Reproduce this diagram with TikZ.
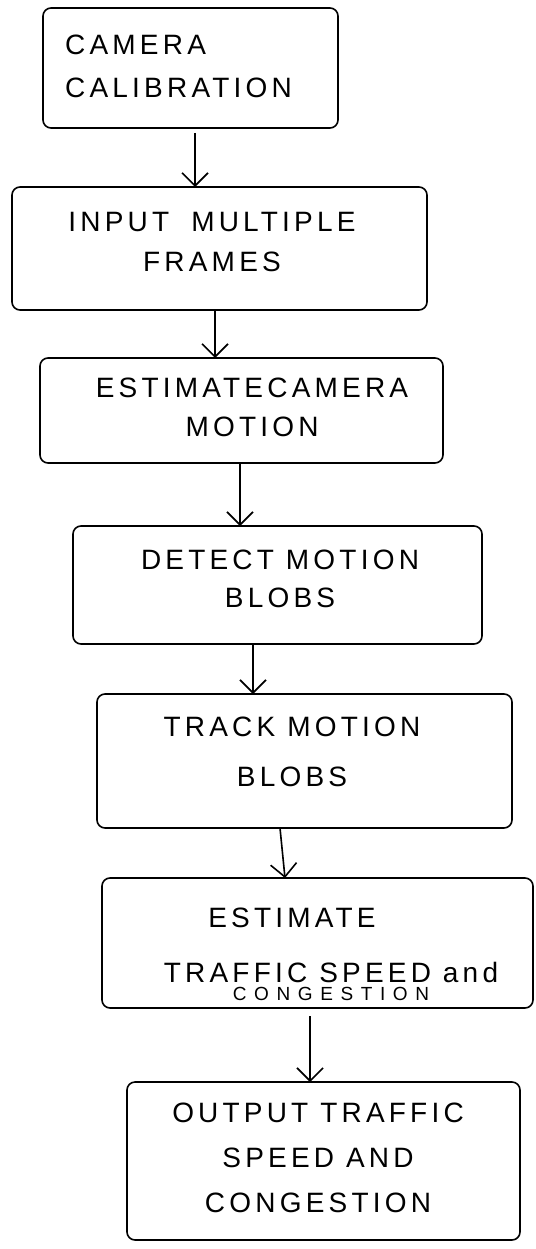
\documentclass[tikz,border=0pt]{standalone}
\usepackage{fontspec}
\newfontfamily\hand[LetterSpace=15]{Liberation Sans}
\newfontfamily\handwide[LetterSpace=40]{Liberation Sans}
\usetikzlibrary{arrows.meta}
\begin{document}
\begin{tikzpicture}[x=1pt,y=-1pt,
  box/.style={draw, line width=1.6pt, rounded corners=8pt, inner sep=0pt, outer sep=0pt},
  lbl/.style={inner sep=0pt, font=\hand\fontsize{28}{#1}\selectfont},
  flow/.style={line width=1.6pt, -{Straight Barb[length=13pt,width=26pt,line width=1.6pt]}}]
\useasboundingbox[fill=white] (0,0) rectangle (535,1249);
% boxes
\node[box, minimum width=295pt, minimum height=120pt] (b1) at (190.5,68) {};
\node[box, minimum width=415pt, minimum height=123pt] (b2) at (219.5,248.5) {};
\node[box, minimum width=403pt, minimum height=105pt] (b3) at (241.5,410.5) {};
\node[box, minimum width=409pt, minimum height=118pt] (b4) at (277.5,585) {};
\node[box, minimum width=415pt, minimum height=134pt] (b5) at (304.5,761) {};
\node[box, minimum width=431pt, minimum height=130pt] (b6) at (317.5,943) {};
\node[box, minimum width=393pt, minimum height=158pt] (b7) at (323.5,1161) {};
% texts
\node[lbl=43, align=left, anchor=west] (t1) at (65,66.5) {CAMERA\\CALIBRATION};
\node[lbl=40, align=center] (t2) at (212,242) {INPUT\hspace{22pt}MULTIPLE\\FRAMES};
\node[lbl=39, align=center] (t3) at (252,407.5) {ESTIMATECAMERA\\MOTION};
\node[lbl=38, align=center] (t4) at (280,579) {DETECT MOTION\\BLOBS};
\node[lbl=50, align=center] (t5) at (292,752) {TRACK MOTION\\BLOBS};
\node[lbl=28] (t6a) at (292,918) {ESTIMATE};
\node[lbl=28] (t6b) at (331,972) {TRAFFIC SPEED and};
\node[inner sep=0pt, font=\handwide\fontsize{19}{19}\selectfont] (t6c) at (331,994) {CONGESTION};
\node[lbl=45, align=center] (t7) at (318,1158) {OUTPUT TRAFFIC\\SPEED AND\\CONGESTION};
% arrows
\draw[flow, shorten <=5pt] ([xshift=4.5pt]b1.south) -- ([xshift=-24.5pt]b2.north);
\draw[flow] ([xshift=-4.5pt]b2.south) -- ([xshift=-26.5pt]b3.north);
\draw[flow] ([xshift=-1.5pt]b3.south) -- ([xshift=-37.5pt]b4.north);
\draw[flow] ([xshift=-24.5pt]b4.south) -- ([xshift=-51.5pt]b5.north);
\draw[flow] ([xshift=-24.5pt]b5.south) -- ([xshift=-32.5pt]b6.north);
\draw[flow, shorten <=8pt] ([xshift=-7.5pt]b6.south) -- ([xshift=-13.5pt]b7.north);
\end{tikzpicture}
\end{document}
